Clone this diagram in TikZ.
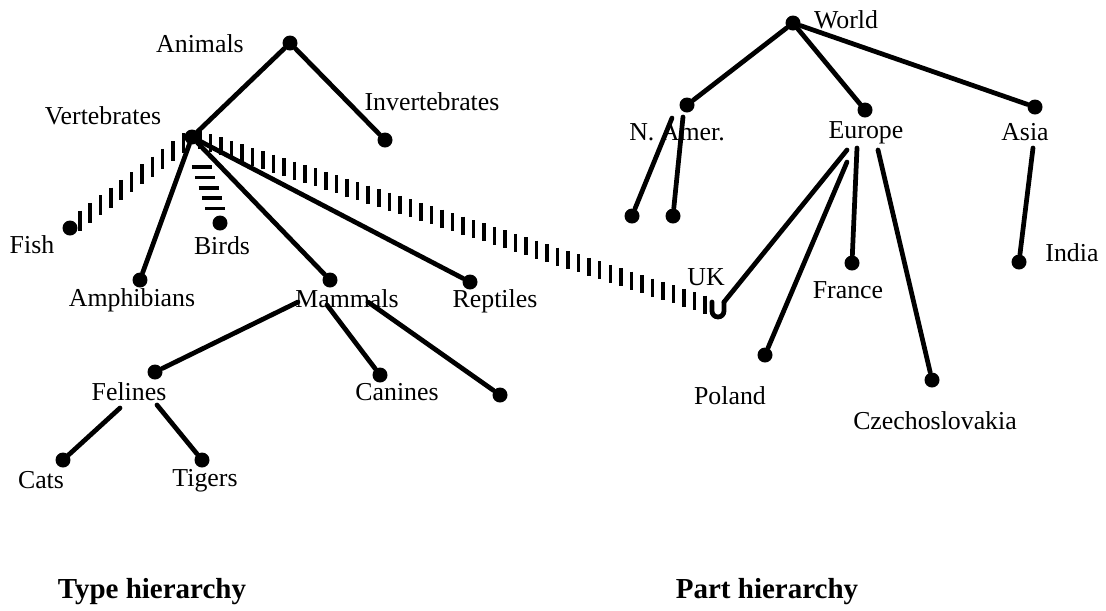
\documentclass[tikz,border=0pt]{standalone}
\usepackage{fontspec}
\setmainfont{Liberation Serif}
\usetikzlibrary{calc}
\newcommand\lblsize{\fontsize{14.7}{17}\selectfont}
\newcommand\ttlsize{\fontsize{16.5}{19}\selectfont\bfseries}
\tikzstyle{dot} = [circle, fill=black, inner sep=0pt, minimum size=0.3cm]
\tikzstyle{lbl} = [inner sep=0pt, font=\lblsize]
\tikzstyle{title} = [inner sep=0pt, font=\ttlsize]
\tikzstyle{link} = [line width=2.7pt, line cap=round]
\tikzset{
	hatch/.style = {line width=2pt},
}

\begin{document}
\begin{tikzpicture}[x=0.02cm, y=-0.02cm]
\useasboundingbox (0,0) rectangle (1106,610);

% Type hierarchy: dots
\node (animals) [dot] at (290,43) {};
\node (vertebrates) [dot] at (192,137) {};
\node (invertebrates) [dot] at (385,140) {};
\node (fish) [dot] at (70,228) {};
\node (birds) [dot] at (220,223) {};
\node (amphibians) [dot] at (140,280) {};
\node (mammals) [dot] at (330,280) {};
\node (reptiles) [dot] at (470,282) {};
\node (felines) [dot] at (155,372) {};
\node (canines) [dot] at (380,375) {};
\node (otherMammal) [dot] at (500,395) {};
\node (cats) [dot] at (63,460) {};
\node (tigers) [dot] at (202,460) {};

% Type hierarchy: labels
\node (animalsTxt) [lbl] at (200,44) {Animals};
\node (vertebratesTxt) [lbl] at (103,116) {Vertebrates};
\node (invertebratesTxt) [lbl] at (432,102) {Invertebrates};
\node (fishTxt) [lbl] at (32,245) {Fish};
\node (birdsTxt) [lbl] at (222,246) {Birds};
\node (amphibiansTxt) [lbl] at (132,300) {Amphibians};
\node (mammalsTxt) [lbl] at (347,299) {Mammals};
\node (reptilesTxt) [lbl] at (495,301) {Reptiles};
\node (felinesTxt) [lbl] at (129,392) {Felines};
\node (caninesTxt) [lbl] at (397,392) {Canines};
\node (catsTxt) [lbl] at (41,480) {Cats};
\node (tigersTxt) [lbl] at (205,481) {Tigers};

% Part hierarchy: dots
\node (world) [dot] at (793,23) {};
\node (nAmer) [dot] at (687,105) {};
\node (europe) [dot] at (865,110) {};
\node (asia) [dot] at (1035,107) {};
\node (nAmerA) [dot] at (632,216) {};
\node (nAmerB) [dot] at (673,216) {};
\node (france) [dot] at (852,263) {};
\node (poland) [dot] at (765,355) {};
\node (czech) [dot] at (932,380) {};
\node (india) [dot] at (1019,262) {};
\coordinate (uk) at (718,309);

% Part hierarchy: labels
\node (worldTxt) [lbl] at (846,20) {World};
\node (nAmerTxt) [lbl] at (677,132) {N. Amer.};
\node (europeTxt) [lbl] at (866,133) {Europe};
\node (asiaTxt) [lbl] at (1025,132) {Asia};
\node (ukTxt) [lbl] at (706,277) {UK};
\node (franceTxt) [lbl] at (848,290) {France};
\node (polandTxt) [lbl] at (730,396) {Poland};
\node (czechTxt) [lbl] at (935,421) {Czechoslovakia};
\node (indiaTxt) [lbl] at (1072,253) {India};

% Titles
\node (typeTitle) [title] at (152,592) {Type hierarchy};
\node (partTitle) [title] at (767,592) {Part hierarchy};

% Hatched links
\foreach \t in {0.07,0.155,...,0.94}
	\draw [hatch] ($(vertebrates)!\t!(fish)$) +(0,-10) -- +(0,10);
\foreach \t in {0.015,0.035,...,0.98}
	\draw [hatch] ($(vertebrates)!\t!(uk)$) +(0,-9) -- +(0,9);
\foreach \t in {0.35,0.47,...,0.84}
	\draw [hatch] ($(vertebrates)!\t!(birds)$) +(-10,0) -- +(10,0);
\draw [link] ([shift={(-6,-7)}]uk) -- ([shift={(-6,2)}]uk) arc[start angle=180, end angle=0, radius=6] -- ([shift={(6,-7)}]uk);

% Placement of edges
\draw [link] (animals) -- (vertebrates);
\draw [link] (animals) -- (invertebrates);
\draw [link] (vertebrates) -- (amphibians);
\draw [link] (vertebrates) -- (mammals);
\draw [link] (vertebrates) -- (reptiles);
\draw [link] ([shift={(-49,3)}]mammalsTxt.center) -- (felines);
\draw [link] ([shift={(-20,6)}]mammalsTxt.center) -- (canines);
\draw [link] ([shift={(21,3)}]mammalsTxt.center) -- (otherMammal);
\draw [link] ([shift={(-9,16)}]felinesTxt.center) -- (cats);
\draw [link] ([shift={(28,13)}]felinesTxt.center) -- (tigers);

\draw [link] (world) -- (nAmer);
\draw [link] (world) -- (europe);
\draw [link] (world) -- (asia);
\draw [link] ([shift={(-5,-14)}]nAmerTxt.center) -- (nAmerA);
\draw [link] ([shift={(6,-15)}]nAmerTxt.center) -- (nAmerB);
\draw [link] ([shift={(-19,17)}]europeTxt.center) -- ([shift={(6,-7)}]uk);
\draw [link] ([shift={(-19,29)}]europeTxt.center) -- (poland);
\draw [link] ([shift={(-9,15)}]europeTxt.center) -- (france);
\draw [link] ([shift={(12,17)}]europeTxt.center) -- (czech);
\draw [link] ([shift={(8,16)}]asiaTxt.center) -- (india);

\end{tikzpicture}
\end{document}
